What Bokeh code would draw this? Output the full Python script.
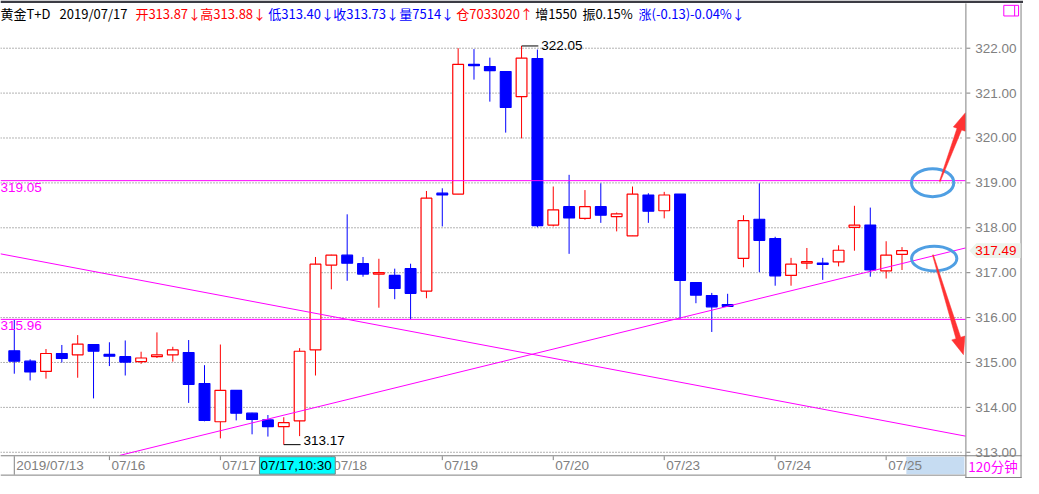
import numpy as np
from bokeh.plotting import figure
from bokeh.models import Range1d, ColumnDataSource
from bokeh.core.properties import value
from bokeh.embed import file_html
from bokeh.resources import INLINE

# ---------------- data ----------------
opens  = [315.26, 315.03, 314.80, 315.20, 315.17, 315.40, 315.18, 315.13, 315.02, 315.13,
          315.17, 315.22, 314.53, 313.68, 314.38, 313.87, 313.72, 313.57, 313.70, 315.28,
          317.17, 317.39, 317.20, 316.98, 316.94, 317.09, 316.59, 318.77, 318.75, 321.64,
          321.59, 321.48, 320.92, 321.77, 318.06, 318.47, 318.21, 318.47, 318.25, 317.82,
          318.73, 318.38, 318.75, 316.78, 316.49, 316.29, 317.32, 318.19, 317.76, 316.94,
          317.22, 317.21, 317.24, 318.01, 318.06, 317.04, 317.41]
highs  = [315.95, 315.07, 315.30, 315.39, 315.61, 315.40, 315.45, 315.49, 315.24, 315.67,
          315.35, 315.50, 314.94, 315.40, 314.38, 313.88, 313.83, 313.78, 315.32, 317.35,
          317.40, 318.30, 317.35, 317.31, 317.09, 317.20, 318.82, 318.88, 322.00, 321.98,
          321.79, 321.48, 322.05, 321.97, 318.92, 319.18, 318.84, 318.99, 318.34, 318.92,
          318.77, 318.80, 318.75, 316.78, 316.55, 316.53, 318.28, 318.99, 317.80, 317.33,
          317.55, 317.33, 317.61, 318.49, 318.45, 317.70, 317.57]
lows   = [314.75, 314.60, 314.64, 315.00, 314.66, 314.20, 314.92, 314.71, 314.97, 315.10,
          315.02, 314.10, 313.69, 313.31, 313.71, 313.40, 313.35, 313.17, 313.36, 314.71,
          316.63, 316.82, 316.91, 316.22, 316.41, 315.96, 316.43, 318.03, 318.75, 321.30,
          320.81, 320.12, 319.99, 318.01, 318.03, 317.42, 318.18, 318.11, 317.92, 317.82,
          318.11, 318.21, 315.97, 316.32, 315.68, 316.24, 317.12, 317.01, 316.71, 316.71,
          317.08, 316.84, 317.14, 317.49, 316.91, 316.87, 317.06]
closes = [315.03, 314.79, 315.20, 315.09, 315.41, 315.25, 315.14, 315.01, 315.10, 315.17,
          315.28, 314.51, 313.71, 314.38, 313.87, 313.73, 313.57, 313.66, 315.25, 317.19,
          317.39, 317.21, 316.97, 316.99, 316.65, 316.54, 318.66, 318.73, 321.64, 321.61,
          321.50, 320.68, 321.78, 318.05, 318.40, 318.22, 318.47, 318.28, 318.31, 318.75,
          318.37, 318.73, 316.83, 316.50, 316.24, 316.25, 318.16, 317.72, 316.93, 317.19,
          317.24, 317.19, 317.50, 318.06, 317.06, 317.39, 317.49]

day_tick_index = [0, 6, 13, 20, 27, 34, 41, 48, 55]
day_labels = ["2019/07/13", "07/16", "07/17", "07/18", "07/19", "07/20", "07/23", "07/24", "07/25"]

price_ticks = [313, 314, 315, 316, 317, 318, 319, 320, 321, 322]
price_tick_labels = ["313.00", "314.00", "315.00", "316.00", "317.00",
                     "318.00", "319.00", "320.00", "321.00", "322.00"]

level_prices = [319.05, 315.96]
level_labels = ["319.05", "315.96"]

desc_line_x = [-0.87, 60.0]
desc_line_y = [317.42, 313.36]
asc_line_x = [6.65, 60.0]
asc_line_y = [312.93, 317.55]

last_price = 317.49
last_label = "317.49"
max_index, max_price, max_label = 32, 322.05, "322.05"
min_index, min_price, min_label = 17, 313.17, "313.17"

cursor_label = "07/17,10:30"
period_label = "120分钟"

header_texts = ["黄金T+D", "2019/07/17", "开313.87↓", "高313.88↓", "低313.40↓", "收313.73↓",
                "量7514↓", "仓7033020↑", "增1550", "振0.15%", "涨(-0.13)-0.04%↓"]
header_colors = ["#000000", "#000000", "#ff0000", "#ff0000", "#0000ff", "#0000ff",
                 "#0000ff", "#ff0000", "#000000", "#000000", "#0000ff"]
header_x = [0, 60, 137, 203, 272, 338, 405, 463, 543, 591, 648]

# ---------------- layout ----------------
W, H = 1023, 478
REF_W, REF_H = 1039, 494
X0, STEP = 14.0, 16.1          # ref pixel of first candle, pixels per candle
Y_TOP_PRICE, Y_TOP_PX, PX_PER = 322.0, 49.3, 46.4

x_range = Range1d(-X0 / STEP, (REF_W - X0) / STEP)
y_range = Range1d(Y_TOP_PRICE - (REF_H - Y_TOP_PX) / PX_PER, Y_TOP_PRICE + Y_TOP_PX / PX_PER)

p = figure(width=W, height=H, x_range=x_range, y_range=y_range,
           output_backend="svg", toolbar_location=None, tools="",
           x_axis_location=None, y_axis_location=None, min_border=0,
           outline_line_color=None, background_fill_color="white",
           border_fill_color="white")
p.grid.visible = False
p.extra_x_ranges = {"px": Range1d(0, REF_W)}
p.extra_y_ranges = {"px": Range1d(REF_H, 0)}

NUM_FONT = value("Liberation Sans")
CJK_FONT = value("Noto Sans CJK SC")
GRAY = "#808080"
MAGENTA = "#ff00ff"
UP = "#ff0000"
DOWN = "#0000ff"

# dotted grid lines
n = len(price_ticks)
p.segment(x0=[0] * n, x1=[978] * n, y0=price_ticks, y1=price_ticks,
          x_range_name="px", line_color="#666666", line_width=1, line_dash="1 2")

# candles
idx = list(range(len(opens)))
colors = [UP if c >= o else DOWN for o, c in zip(opens, closes)]
fills = ["white" if c >= o else DOWN for o, c in zip(opens, closes)]
tops = []
bots = []
for o, c in zip(opens, closes):
    t, b = max(o, c), min(o, c)
    if t - b < 0.03:
        m = (t + b) / 2
        t, b = m + 0.015, m - 0.015
    tops.append(t)
    bots.append(b)
src = ColumnDataSource(dict(x=idx, h=highs, l=lows, top=tops, bot=bots, col=colors, fill=fills))
p.segment(x0="x", x1="x", y0="l", y1="h", line_color="col", line_width=1, source=src)
p.vbar(x="x", top="top", bottom="bot", width=0.68, fill_color="fill", line_color="col",
       line_width=1.2, source=src)

# horizontal level lines and labels
p.segment(x0=[0, 0], x1=[980, 980], y0=level_prices, y1=level_prices,
          x_range_name="px", line_color=MAGENTA, line_width=1)
p.text(x=[0, 0], y=level_prices, text=level_labels, x_range_name="px",
       text_font=NUM_FONT, text_font_size="13.5px", text_color=MAGENTA,
       text_align="left", text_baseline="top", y_offset=2)

# trend lines
p.line(desc_line_x, desc_line_y, line_color=MAGENTA, line_width=1)
p.line(asc_line_x, asc_line_y, line_color=MAGENTA, line_width=1)

# max / min markers
p.segment(x0=[max_index, min_index], x1=[max_index + 1.06, min_index + 1.06],
          y0=[max_price, min_price], y1=[max_price, min_price], line_color="black", line_width=1)
p.text(x=[max_index + 1.24], y=[max_price], text=[max_label], text_font=NUM_FONT,
       text_font_size="13.5px", text_color="black", text_align="left", text_baseline="middle")
p.text(x=[min_index + 1.24], y=[min_price], text=[min_label], text_font=NUM_FONT,
       text_font_size="13.5px", text_color="black", text_align="left", text_baseline="bottom")

# annotation ellipses and arrows
p.ellipse(x=[946.7, 948.3], y=[188.3, 266.7], width=[43, 46], height=[29, 25.5],
          fill_color=None, line_color="#4f9fe3", line_width=3,
          x_range_name="px", y_range_name="px")


def arrow_poly(x0, y0, x1, y1, w0, w1, head_len, head_w):
    d = np.array([x1 - x0, y1 - y0], dtype=float)
    L = np.hypot(*d)
    u = d / L
    nrm = np.array([-u[1], u[0]])
    s = np.array([x0, y0], dtype=float)
    tip = np.array([x1, y1], dtype=float)
    base = tip - u * head_len
    pts = [s + nrm * w0 / 2, base + nrm * w1 / 2, base + nrm * head_w / 2, tip,
           base - nrm * head_w / 2, base - nrm * w1 / 2, s - nrm * w0 / 2]
    return [float(q[0]) for q in pts], [float(q[1]) for q in pts]


a1 = arrow_poly(954, 187, 980, 116, 1.0, 5.0, 18, 13)
a2 = arrow_poly(947, 263, 978, 366, 1.0, 5.0, 18, 14)
p.patches(xs=[a1[0], a2[0]], ys=[a1[1], a2[1]], fill_color="#ff3333", line_color="#ff3333",
          line_width=0.5, x_range_name="px", y_range_name="px")

# top bar
p.quad(left=[0], right=[REF_W], top=[0], bottom=[2.6], fill_color="#3c3c44", line_color=None,
       x_range_name="px", y_range_name="px")

# header
p.text(x=header_x, y=[13.5] * len(header_x), text=header_texts, text_color=header_colors,
       text_font=CJK_FONT, text_font_size="13px", text_align="left", text_baseline="middle",
       x_range_name="px", y_range_name="px")
p.quad(left=[1019], right=[1034], top=[5], bottom=[16], fill_color=None, line_color=MAGENTA,
       line_width=1, x_range_name="px", y_range_name="px")
p.segment(x0=[1030], x1=[1030], y0=[5], y1=[16], line_color=MAGENTA,
          x_range_name="px", y_range_name="px")

# frame lines
p.segment(x0=[980.5, 1036.5, 0, 0, 980], x1=[980.5, 1036.5, 1037, 980, 1037],
          y0=[3, 3, 470.5, 490.5, 493], y1=[494, 494, 470.5, 490.5, 493],
          line_color=GRAY, line_width=1, x_range_name="px", y_range_name="px")

# right price axis
p.segment(x0=[981] * n, x1=[985] * n, y0=price_ticks, y1=price_ticks,
          x_range_name="px", line_color=GRAY, line_width=1)
p.text(x=[990] * n, y=price_ticks, text=price_tick_labels, x_range_name="px",
       text_font=NUM_FONT, text_font_size="13.5px", text_color=GRAY,
       text_align="left", text_baseline="middle")

# last price tag
p.patch(x=[984, 991, 1036, 1036, 991],
        y=[last_price, last_price + 0.165, last_price + 0.165, last_price - 0.165, last_price - 0.165],
        x_range_name="px", fill_color="#edf3ec", line_color=None)
p.text(x=[990], y=[last_price], text=[last_label], x_range_name="px",
       text_font=NUM_FONT, text_font_size="13.5px", text_color="#ff0000",
       text_align="left", text_baseline="middle")

# bottom time axis
p.quad(left=[920], right=[979], top=[471.5], bottom=[489.5], fill_color="#c6dcf2",
       line_color=None, x_range_name="px", y_range_name="px")

m = len(day_tick_index)
p.segment(x0=day_tick_index, x1=day_tick_index, y0=[471] * m, y1=[490] + [475] * (m - 1),
          y_range_name="px", line_color=GRAY, line_width=1)
p.text(x=day_tick_index, y=[480.5] * m, text=day_labels, y_range_name="px", x_offset=2,
       text_font=NUM_FONT, text_font_size="13.5px", text_color=GRAY,
       text_align="left", text_baseline="middle")

p.quad(left=[263], right=[340], top=[471.5], bottom=[489.5], fill_color="#00ffff",
       line_color=GRAY, line_width=1, x_range_name="px", y_range_name="px")
p.text(x=[264], y=[480.5], text=[cursor_label], x_range_name="px", y_range_name="px",
       text_font=NUM_FONT, text_font_size="13.5px", text_color="black",
       text_align="left", text_baseline="middle")

p.text(x=[983], y=[481], text=[period_label], x_range_name="px", y_range_name="px",
       text_font=CJK_FONT, text_font_size="13.5px", text_color=MAGENTA,
       text_align="left", text_baseline="middle")

open("out.html", "w").write(file_html(p, INLINE))
